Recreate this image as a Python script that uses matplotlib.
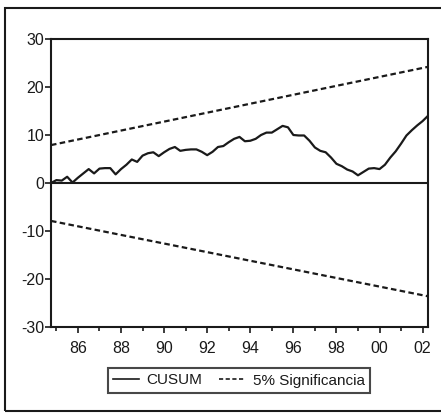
import numpy as np
import matplotlib
matplotlib.use("Agg")
import matplotlib.pyplot as plt
from matplotlib.lines import Line2D
from matplotlib.patches import Rectangle

plt.rcParams['font.family'] = ['Liberation Sans', 'DejaVu Sans']

# Quarterly data, 1984Q4 .. 2002Q2
start_year = 1984.75
cusum = [0.0, 0.6, 0.5, 1.3, 0.1, 1.1, 2.0, 2.9, 2.0, 3.0,
         3.1, 3.1, 1.8, 2.9, 3.8, 4.9, 4.4, 5.7, 6.2, 6.4,
         5.6, 6.4, 7.1, 7.5, 6.7, 6.9, 7.0, 7.0, 6.5, 5.8,
         6.5, 7.5, 7.7, 8.5, 9.2, 9.6, 8.7, 8.8, 9.2, 10.0,
         10.5, 10.5, 11.2, 11.9, 11.6, 10.0, 9.9, 9.9, 8.8, 7.4,
         6.7, 6.4, 5.3, 4.0, 3.5, 2.8, 2.4, 1.6, 2.3, 3.0,
         3.1, 2.9, 3.8, 5.3, 6.6, 8.2, 9.9, 11.0, 12.0, 12.9,
         14.0]
sig_upper = [7.9, 24.2]
sig_lower = [-7.9, -23.6]
tick_years = [1986, 1988, 1990, 1992, 1994, 1996, 1998, 2000, 2002]
tick_labels = ['86', '88', '90', '92', '94', '96', '98', '00', '02']
minor_years = list(range(1985, 2003))
y_ticks = [-30, -20, -10, 0, 10, 20, 30]

t = start_year + 0.25 * np.arange(len(cusum))
sig_t = [t[0], t[-1]]

W, H = 441, 413
fig = plt.figure(figsize=(W / 100, H / 100), dpi=100)
ax = fig.add_axes([51 / W, 1 - 327 / H, (428 - 51) / W, (327 - 39) / H])

c = '#1a1a1a'
ax.plot(t, cusum, color=c, lw=1.6, solid_joinstyle='round')
ax.plot(sig_t, sig_upper, color=c, lw=1.6, ls=(0, (2.5, 1.5)))
ax.plot(sig_t, sig_lower, color=c, lw=1.6, ls=(0, (2.5, 1.5)))
ax.axhline(0, color=c, lw=1.5)

ax.set_xlim(t[0], t[-1])
ax.set_ylim(-30, 30)
ax.set_xticks(tick_years)
ax.set_xticklabels(tick_labels)
ax.set_xticks(minor_years, minor=True)
ax.set_yticks(y_ticks)
ax.set_yticklabels([str(v) for v in y_ticks])
ax.tick_params(axis='x', which='both', direction='out', length=4, width=1.2,
               labelsize=11.5, pad=6, color=c)
ax.tick_params(axis='x', which='minor', length=3)
ax.tick_params(axis='y', direction='out', length=4, width=1.2, labelsize=11.5,
               pad=1, color=c)
for s in ax.spines.values():
    s.set_linewidth(1.5)
    s.set_color(c)
for lab in ax.get_xticklabels() + ax.get_yticklabels():
    lab.set_color(c)

handles = [Line2D([], [], color=c, lw=1.2),
           Line2D([], [], color=c, lw=1.2, ls=(0, (2.5, 1.5)))]
leg = fig.legend(handles, ['CUSUM', '5% Significancia'], loc='center',
                 bbox_to_anchor=(239 / W, 1 - 380.5 / H), ncol=2,
                 fontsize=11, frameon=True, fancybox=False, edgecolor=c,
                 handlelength=1.7, handletextpad=0.5, columnspacing=1.1,
                 borderpad=0.35, borderaxespad=0)
leg.get_frame().set_linewidth(1.5)
for txt in leg.get_texts():
    txt.set_color(c)

# outer frame
fig.patches.append(Rectangle((5 / W, 1 - 411 / H), 1.2, (411 - 8) / H,
                             transform=fig.transFigure, fill=False,
                             edgecolor=c, lw=1.5))

fig.savefig('out.png', dpi=100)
